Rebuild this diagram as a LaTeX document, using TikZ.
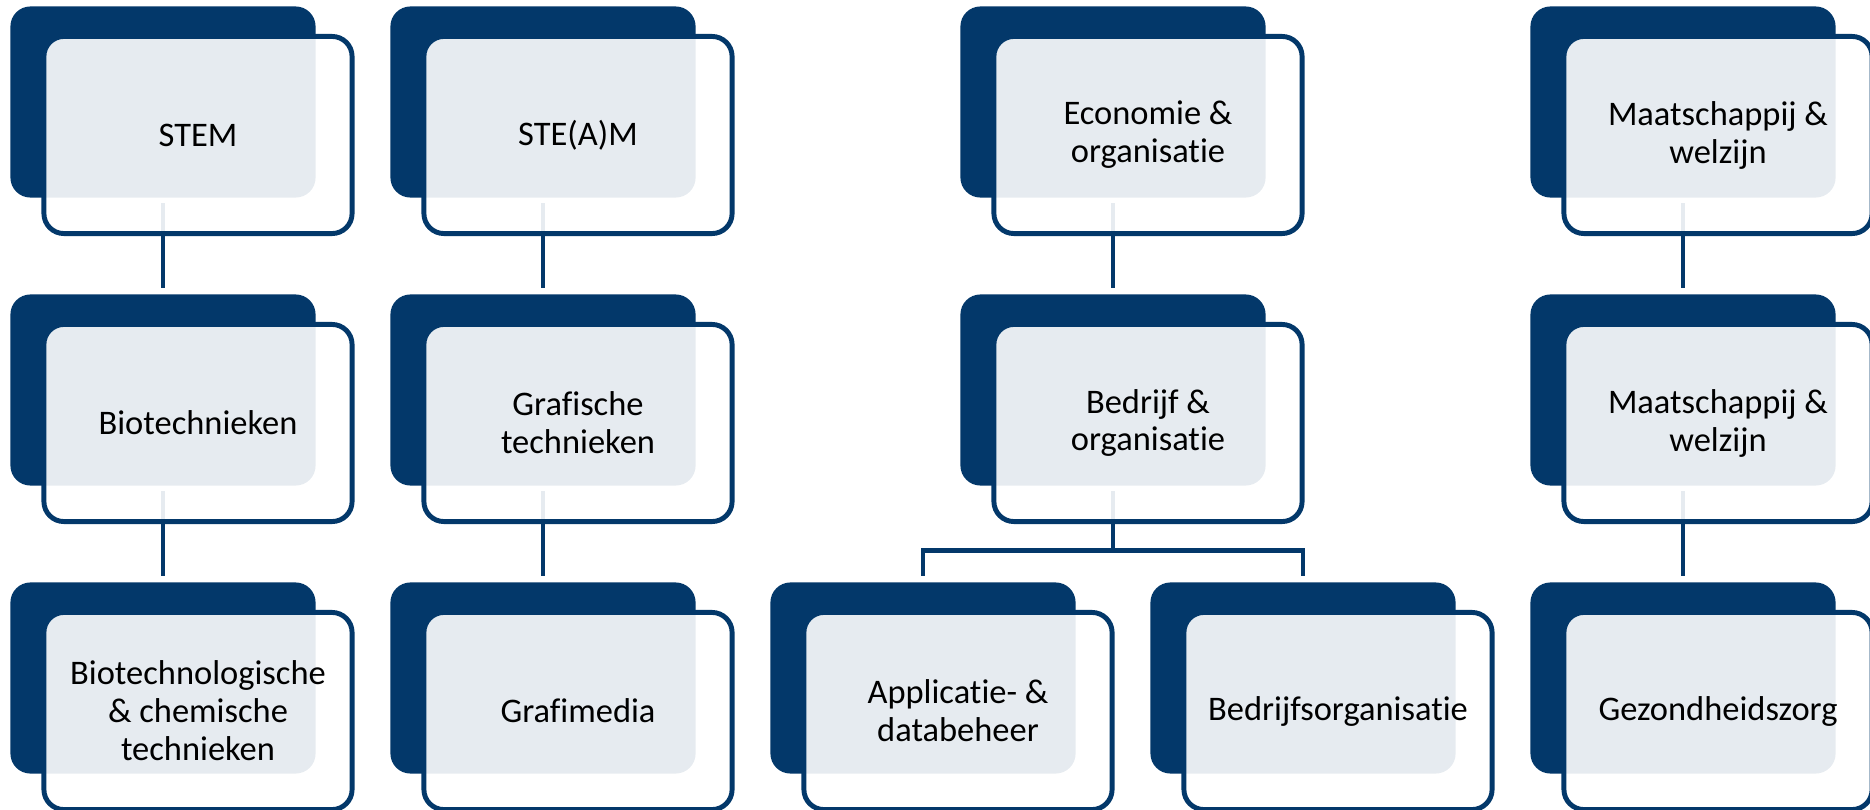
\documentclass[tikz,border=0pt]{standalone}
\usepackage{fontspec}
\setmainfont{Carlito}[Ligatures={NoCommon,NoContextual}]
\usetikzlibrary{positioning,calc,backgrounds}
\definecolor{donkerblauw}{HTML}{03386A}

\begin{document}
\begin{tikzpicture}[%
    x=0.01cm, y=-0.01cm,
    achter/.style={fill=donkerblauw, rounded corners=0.2cm, minimum width=3.05cm, minimum height=1.91cm, inner sep=0pt},
    voor/.style={draw=donkerblauw, line width=1.4pt, fill=white, fill opacity=0.9, text opacity=1, rounded corners=0.2cm,
                 minimum width=3.08cm, minimum height=1.97cm, inner sep=0pt, align=center, font=\fontsize{9.8}{10.8}\selectfont},
    lijn/.style={draw=donkerblauw, line width=1.3pt, shorten <=0.05cm, shorten >=0.06cm}]

    \useasboundingbox (0,0) rectangle (1870,809);

    % bovenste rij
    \node[achter] (stemA) at (163,102) {};
    \node[voor] (stem) at ($(stemA)+(35,33)$) {STEM};
    \node[achter] (steamA) at (543,102) {};
    \node[voor] (steam) at ($(steamA)+(35,33)$) {STE(A)M};
    \node[achter] (econA) at (1113,102) {};
    \node[voor] (econ) at ($(econA)+(35,33)$) {Economie \&\\organisatie};
    \node[achter] (maatA) at (1683,102) {};
    \node[voor] (maat) at ($(maatA)+(35,33)$) {Maatschappij \&\\welzijn};

    % middelste rij
    \node[achter] (bioA) at (163,390) {};
    \node[voor] (bio) at ($(bioA)+(35,33)$) {Biotechnieken};
    \node[achter] (grafA) at (543,390) {};
    \node[voor] (graf) at ($(grafA)+(35,33)$) {Grafische\\technieken};
    \node[achter] (bedrijfA) at (1113,390) {};
    \node[voor] (bedrijf) at ($(bedrijfA)+(35,33)$) {Bedrijf \&\\organisatie};
    \node[achter] (welzA) at (1683,390) {};
    \node[voor] (welz) at ($(welzA)+(35,33)$) {Maatschappij \&\\welzijn};

    % onderste rij
    \node[achter] (chemA) at (163,678) {};
    \node[voor] (chem) at ($(chemA)+(35,33)$) {Biotechnologische\\\& chemische\\technieken};
    \node[achter] (mediaA) at (543,678) {};
    \node[voor] (media) at ($(mediaA)+(35,33)$) {Grafimedia};
    \node[achter] (appA) at (923,678) {};
    \node[voor] (app) at ($(appA)+(35,33)$) {Applicatie- \&\\databeheer};
    \node[achter] (orgA) at (1303,678) {};
    \node[voor] (org) at ($(orgA)+(35,33)$) {Bedrijfsorganisatie};
    \node[achter] (zorgA) at (1683,678) {};
    \node[voor] (zorg) at ($(zorgA)+(35,33)$) {Gezondheidszorg};

    \begin{pgfonlayer}{background}
    \draw[lijn] (stemA.south) -- (bioA.north);
    \draw[lijn] (bioA.south) -- (chemA.north);
    \draw[lijn] (steamA.south) -- (grafA.north);
    \draw[lijn] (grafA.south) -- (mediaA.north);
    \draw[lijn] (econA.south) -- (bedrijfA.north);
    \draw[lijn] (maatA.south) -- (welzA.north);
    \draw[lijn] (welzA.south) -- (zorgA.north);

    \draw[lijn, shorten >=0pt] (bedrijfA.south) -- ++(0,64) coordinate (splits);
    \draw[lijn, shorten <=0.06cm] (appA.north) |- (splits) -| (orgA.north);
    \end{pgfonlayer}
\end{tikzpicture}
\end{document}
